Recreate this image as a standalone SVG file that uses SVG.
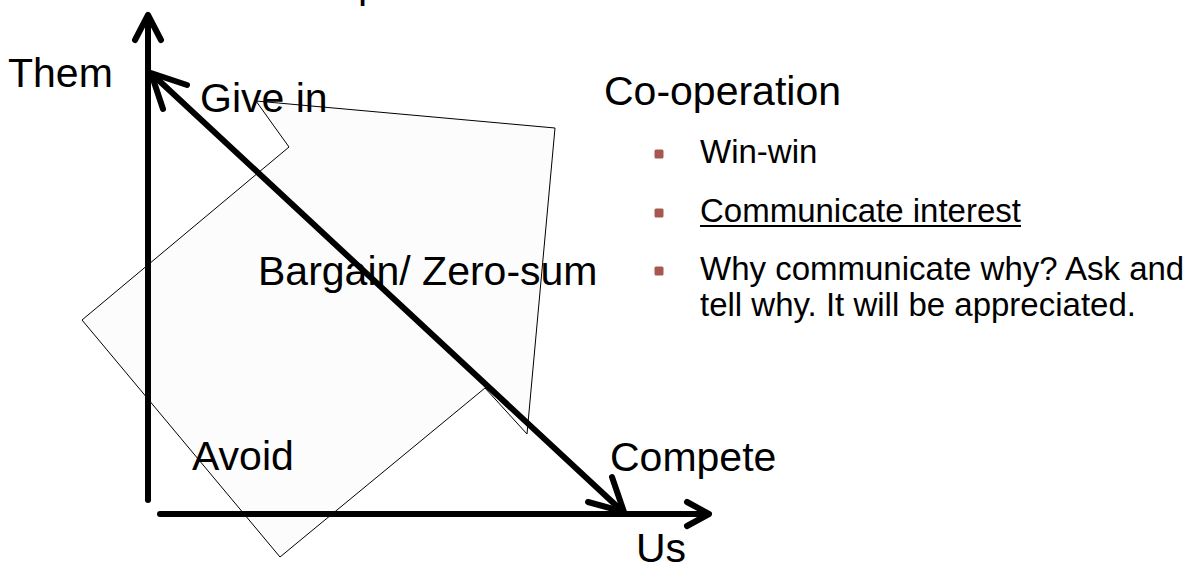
<svg xmlns="http://www.w3.org/2000/svg" width="1204" height="566" viewBox="0 0 1204 566">
  <style>
    .lbl { font-family: "Liberation Sans", Arial, sans-serif; font-size: 41px; fill: #000; }
    .blt { font-family: "Liberation Sans", Arial, sans-serif; font-size: 33px; fill: #000; }
    .thick { stroke: #000; stroke-width: 6; fill: none; stroke-linecap: round; stroke-linejoin: round; }
    .dot { fill: #a8574f; }
  </style>
  <rect width="1204" height="566" fill="#fff"/>
  <g id="title"><text class="lbl" x="358" y="-2" font-size="44">p</text></g>
  <g id="backdrop">
    <polygon points="256,101 555,128 527,434 485,388 280,557 82,320 289,147" fill="#fcfcfc" stroke="#000" stroke-width="1"/>
  </g>
  <g id="connectors">
    <line class="thick" x1="148" y1="500" x2="148" y2="16" stroke-linecap="butt"/>
    <polyline class="thick" points="135,40 148,15 161,40"/>
    <line class="thick" x1="160" y1="514" x2="708" y2="514" stroke-linecap="butt"/>
    <polyline class="thick" points="687,502 709,514 687,526"/>
    <line class="thick" x1="153" y1="75" x2="622" y2="511"/>
    <polyline class="thick" points="187,85 151,73 163,109"/>
    <polyline class="thick" points="588,502 624,512 612,477"/>
  </g>
  <g id="node-them"><text class="lbl" x="8" y="87">Them</text></g>
  <g id="node-givein"><text class="lbl" x="200" y="112" font-size="44">Give in</text></g>
  <g id="node-bargain"><text class="lbl" x="258" y="285" fill="#1a1a1a">Bargain/ Zero-sum</text></g>
  <g id="node-avoid"><text class="lbl" x="192" y="470">Avoid</text></g>
  <g id="node-compete"><text class="lbl" x="610" y="471">Compete</text></g>
  <g id="node-us"><text class="lbl" x="636" y="562">Us</text></g>
  <g id="node-cooperation">
    <text class="lbl" x="604" y="105">Co-operation</text>
    <rect class="dot" x="654.5" y="149.5" width="9" height="9" rx="1.5"/>
    <text class="blt" x="700" y="163" fill="#555">Win-win</text>
    <rect class="dot" x="654.5" y="208.5" width="9" height="9" rx="1.5"/>
    <text class="blt" x="700" y="222">Communicate interest</text>
    <line x1="700" y1="226" x2="1021" y2="226" stroke="#000" stroke-width="2"/>
    <rect class="dot" x="654.5" y="266.5" width="9" height="9" rx="1.5"/>
    <text class="blt" x="700" y="280">Why communicate why? Ask and</text>
    <text class="blt" x="700" y="316">tell why. It will be appreciated.</text>
  </g>
</svg>
